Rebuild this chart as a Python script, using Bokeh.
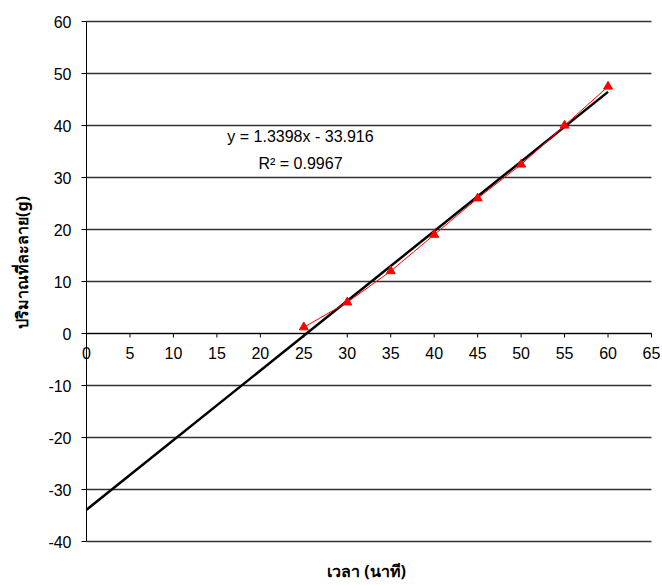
import math
import numpy as np
from bokeh.plotting import figure
from bokeh.models import Label, Range1d
from bokeh.core.properties import value
from bokeh.embed import file_html
from bokeh.resources import INLINE

# data
time_min = [25, 30, 35, 40, 45, 50, 55, 60]
dissolved_g = [1.2, 6.0, 12.0, 19.0, 26.0, 32.5, 40.0, 47.5]
x_ticks = [0, 5, 10, 15, 20, 25, 30, 35, 40, 45, 50, 55, 60, 65]
y_ticks = [-40, -30, -20, -10, 0, 10, 20, 30, 40, 50, 60]
eq_text = "y = 1.3398x - 33.916"
r2_text = "R² = 0.9967"
x_title = "เวลา (นาที)"
y_title = "ปริมาณที่ละลาย(g)"

NUM_FONT = "Liberation Sans"
W, H = 662, 585
# plot-area placement (pixels) — layout only
LEFT, RIGHT, TOP, BOTTOM = 86, 651, 21, 541
XMIN, XMAX = min(x_ticks), max(x_ticks)
YMIN, YMAX = min(y_ticks), max(y_ticks)
sx = (RIGHT - LEFT) / (XMAX - XMIN)      # px per x unit
sy = (BOTTOM - TOP) / (YMAX - YMIN)      # px per y unit
x_lo = XMIN - LEFT / sx
x_hi = XMAX + (W - RIGHT) / sx
y_hi = YMAX + TOP / sy
y_lo = YMIN - (H - BOTTOM) / sy

p = figure(width=W, height=H, output_backend="svg", toolbar_location=None,
           x_range=Range1d(x_lo, x_hi), y_range=Range1d(y_lo, y_hi),
           x_axis_location=None, y_axis_location=None,
           min_border=0)
p.outline_line_color = None
p.grid.grid_line_color = None
p.background_fill_color = "white"
p.border_fill_color = "white"

# horizontal gridlines
p.segment(x0=[XMIN] * len(y_ticks), x1=[XMAX] * len(y_ticks), y0=y_ticks, y1=y_ticks,
          line_color="#333333", line_width=1.3)

# y axis line at x = 0, ticks to the left, labels
p.segment(x0=[0], x1=[0], y0=[YMIN], y1=[YMAX], line_color="black", line_width=1)
p.segment(x0=[-5 / sx] * len(y_ticks), x1=[0] * len(y_ticks), y0=y_ticks, y1=y_ticks,
          line_color="black", line_width=1)
p.text(x=[-15 / sx] * len(y_ticks), y=y_ticks, text=[str(t) for t in y_ticks],
       text_align="right", text_baseline="middle", text_font=value(NUM_FONT),
       text_font_size="16px", text_color="black")

# x axis at y = 0, ticks downward, labels
p.segment(x0=[XMIN], x1=[XMAX], y0=[0], y1=[0], line_color="black", line_width=1)
p.segment(x0=x_ticks, x1=x_ticks, y0=[0] * len(x_ticks), y1=[-4 / sy] * len(x_ticks),
          line_color="black", line_width=1)
p.text(x=x_ticks, y=[-19 / sy] * len(x_ticks), text=[str(t) for t in x_ticks],
       text_align="center", text_baseline="middle", text_font=value(NUM_FONT),
       text_font_size="16px", text_color="black")

# trendline (linear fit) from x=0 to x=60
slope, intercept = np.polyfit(time_min, dissolved_g, 1)
tx = [0, max(time_min)]
ty = [intercept + slope * v for v in tx]
p.line(tx, ty, line_color="black", line_width=2.5)

# data series
p.line(time_min, dissolved_g, line_color="#FF0000", line_width=1)
p.scatter(time_min, dissolved_g, marker="triangle", size=9,
          fill_color="#FF0000", line_color="#FF0000")

# equation labels
p.add_layout(Label(x=(300 - LEFT) / sx, y=(333 - 136) / sy, text=eq_text,
                   text_align="center", text_baseline="middle",
                   text_font=NUM_FONT, text_font_size="16px", text_color="black"))
p.add_layout(Label(x=(300 - LEFT) / sx, y=(333 - 163) / sy, text=r2_text,
                   text_align="center", text_baseline="middle",
                   text_font=NUM_FONT, text_font_size="16px", text_color="black"))

# axis titles
p.add_layout(Label(x=(366 - LEFT) / sx, y=-(570 - 333) / sy, text=x_title,
                   text_align="center", text_baseline="middle",
                   text_font="Noto Sans", text_font_style="bold", text_font_size="16px",
                   text_color="black"))
p.add_layout(Label(x=(21 - LEFT) / sx, y=(333 - 262) / sy, text=y_title, angle=math.pi / 2,
                   text_align="center", text_baseline="middle",
                   text_font="Noto Sans", text_font_style="bold", text_font_size="16px",
                   text_color="black"))

open("out.html", "w").write(file_html(p, INLINE))
